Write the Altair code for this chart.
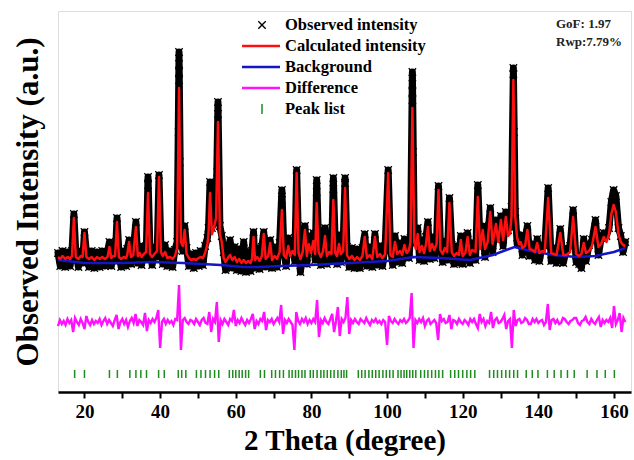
import altair as alt
import pandas as pd

# ---------------- data ----------------
# 2-theta positions of the profile vertices (degrees)
pos = [
    13.0, 13.6, 14.2, 14.9, 15.6, 16.2, 16.7, 17.2, 17.7, 18.4,
    19.0, 19.5, 20.0, 20.5, 21.2, 21.9, 22.6, 23.3, 24.0, 24.7,
    25.4, 26.1, 26.6, 27.1, 27.6, 28.1, 28.6, 29.1, 29.7, 30.4,
    31.0, 31.3, 31.8, 32.3, 32.9, 33.6, 34.1, 34.6, 35.1, 35.7,
    36.3, 36.8, 37.3, 37.9, 38.5, 39.2, 39.7, 40.2, 40.7, 41.3,
    41.9, 42.6, 43.3, 43.9, 44.5, 45.0, 45.5, 46.0, 46.5, 47.0,
    47.6, 48.2, 48.9, 49.5, 50.2, 50.7, 51.3, 51.9, 52.5, 52.8,
    53.2, 53.7, 54.2, 54.8, 55.3, 55.8, 56.3, 56.8, 57.3, 57.9,
    58.5, 59.1, 59.7, 60.3, 60.9, 61.5, 62.1, 62.7, 63.3, 63.9,
    64.3, 64.7, 65.1, 65.7, 66.3, 66.9, 67.4, 67.9, 68.6, 69.1,
    69.6, 70.3, 70.9, 71.6, 72.2, 72.7, 73.3, 73.9, 74.4, 75.0,
    75.6, 76.1, 76.6, 77.1, 77.7, 78.3, 78.8, 79.3, 79.9, 80.5,
    81.0, 81.4, 81.9, 82.5, 83.1, 83.6, 84.1, 84.7, 85.3, 85.8,
    86.3, 86.8, 87.3, 87.8, 88.4, 88.9, 89.4, 90.0, 90.7, 91.4,
    92.1, 92.8, 93.5, 94.1, 94.7, 95.4, 96.1, 96.8, 97.4, 98.1,
    98.8, 99.5, 100.3, 100.9, 101.5, 102.1, 102.7, 103.4, 104.0, 104.6,
    105.2, 105.8, 106.2, 106.7, 107.2, 107.6, 108.1, 108.6, 109.2, 109.8,
    110.3, 110.8, 111.3, 111.9, 112.5, 113.1, 113.6, 114.1, 114.7, 115.3,
    115.9, 116.5, 117.1, 117.7, 118.4, 119.0, 119.5, 120.0, 120.7, 121.3,
    121.9, 122.5, 123.4, 124.0, 124.6, 125.3, 125.9, 126.6, 127.3, 127.9,
    128.8, 129.4, 130.1, 130.7, 131.4, 132.0, 132.5, 132.9, 133.4, 133.9,
    134.4, 134.9, 135.3, 135.8, 136.5, 137.1, 137.7, 138.4, 139.1, 139.7,
    140.3, 141.0, 141.7, 142.6, 143.4, 144.1, 144.8, 145.8, 146.6, 147.4,
    148.4, 149.2, 150.0, 150.8, 151.4, 152.0, 152.6, 153.4, 154.2, 155.1,
    155.9, 156.6, 157.3, 158.0, 158.7, 159.3, 159.9, 160.5, 161.2, 161.8,
    162.4, 163.0,
]
# calculated intensity (a.u.)
calc = [
    135, 133, 136, 133, 135, 133, 136, 174, 135, 133,
    136, 135, 159, 135, 133, 135, 132, 135, 133, 135,
    133, 135, 145, 134, 136, 136, 170, 135, 133, 135,
    134, 137, 150, 135, 137, 165, 136, 139, 135, 138,
    140, 199, 138, 135, 138, 141, 215, 140, 136, 140,
    134, 135, 133, 136, 144, 304, 150, 146, 162, 138,
    134, 132, 133, 132, 134, 135, 134, 139, 148, 158,
    199, 158, 164, 174, 270, 158, 150, 134, 130, 134,
    137, 132, 135, 130, 133, 129, 132, 129, 131, 129,
    133, 155, 132, 135, 131, 136, 158, 133, 136, 149,
    132, 136, 133, 140, 182, 137, 134, 146, 136, 141,
    137, 219, 139, 133, 140, 162, 136, 148, 139, 151,
    138, 189, 140, 135, 141, 156, 136, 140, 138, 192,
    139, 136, 148, 138, 141, 204, 137, 133, 136, 132,
    135, 132, 136, 155, 134, 137, 133, 155, 135, 138,
    134, 138, 219, 137, 135, 150, 138, 141, 137, 147,
    139, 142, 150, 284, 150, 143, 158, 140, 146, 139,
    148, 165, 141, 148, 142, 148, 202, 142, 138, 144,
    140, 189, 140, 136, 139, 137, 152, 136, 139, 155,
    137, 142, 140, 195, 143, 162, 143, 150, 180, 148,
    168, 150, 172, 152, 175, 156, 158, 175, 312, 175,
    154, 148, 150, 144, 146, 162, 143, 142, 140, 149,
    139, 141, 140, 194, 139, 138, 137, 159, 137, 137,
    140, 175, 138, 136, 138, 149, 139, 141, 146, 165,
    145, 148, 155, 150, 158, 178, 187, 180, 158, 150,
    147, 146,
]
# observed intensity (a.u.)
obs = [
    139, 126, 141, 125, 140, 126, 141, 178, 140, 125,
    141, 129, 160, 140, 125, 141, 124, 140, 125, 141,
    126, 140, 150, 126, 142, 131, 174, 140, 125, 141,
    126, 143, 152, 128, 143, 170, 129, 146, 127, 145,
    134, 215, 144, 127, 145, 135, 217, 146, 128, 147,
    126, 141, 125, 142, 150, 340, 156, 141, 166, 144,
    126, 138, 124, 139, 126, 141, 127, 146, 154, 164,
    210, 164, 170, 180, 290, 166, 156, 140, 122, 142,
    152, 124, 145, 122, 143, 121, 150, 120, 140, 121,
    141, 160, 124, 144, 123, 145, 160, 125, 145, 152,
    124, 145, 125, 149, 202, 145, 126, 154, 144, 149,
    131, 222, 147, 120, 148, 166, 128, 156, 147, 159,
    132, 212, 148, 127, 149, 164, 128, 149, 131, 214,
    147, 128, 157, 130, 149, 214, 145, 125, 144, 124,
    143, 124, 144, 158, 126, 145, 125, 158, 127, 146,
    126, 146, 222, 145, 127, 156, 130, 149, 129, 153,
    147, 134, 154, 320, 154, 149, 164, 132, 152, 131,
    155, 170, 133, 155, 134, 154, 206, 149, 130, 151,
    132, 194, 147, 128, 146, 129, 156, 128, 146, 159,
    129, 149, 132, 207, 149, 166, 135, 156, 184, 140,
    172, 156, 176, 146, 180, 162, 165, 185, 324, 180,
    148, 155, 157, 137, 152, 166, 136, 148, 132, 153,
    131, 147, 146, 204, 131, 144, 129, 163, 129, 143,
    146, 182, 130, 128, 124, 153, 131, 147, 152, 172,
    137, 154, 159, 156, 164, 190, 202, 196, 164, 156,
    140, 150,
]
# extra observed points stacked on the strongest reflections
obs_extra_pos = [45.0, 45.0, 45.0, 44.8, 45.2, 44.9, 45.15,
                 55.3, 55.15, 55.45, 55.2,
                 106.7, 106.7, 106.7, 106.55, 106.85, 106.6,
                 133.4, 133.25, 133.55, 133.3,
                 36.8, 72.2, 81.4, 85.8, 88.9]
obs_extra_val = [312, 320, 328, 200, 230, 260, 170,
                 278, 220, 200, 180,
                 292, 300, 308, 200, 240, 160,
                 318, 220, 260, 180,
                 207, 192, 200, 203, 209]

# background
bg_pos = [13, 20, 30, 38, 46, 56, 62, 66, 72, 80, 90, 100, 107, 114, 122,
          128, 133.7, 138, 144, 150, 155, 160, 163]
bg_val = [132, 129, 129, 130, 129, 127, 125, 125, 126, 127, 129, 131, 135, 134, 132,
          137, 145, 141, 137, 135, 136, 140, 144]

# difference curve, one value every 0.5 degree from 13 to 163
diff_start, diff_step = 13.0, 0.5
diff_val = [
    66, 72, 68, 71, 67, 73, 69, 72, 60, 74,
    70, 67, 73, 69, 63, 76, 70, 67, 72, 68,
    71, 69, 73, 67, 71, 74, 68, 72, 69, 66,
    72, 77, 63, 70, 73, 68, 72, 65, 71, 74,
    69, 78, 66, 72, 70, 67, 79, 61, 72, 69,
    73, 70, 74, 82, 44, 70, 73, 68, 72, 69,
    71, 67, 73, 72, 107, 42, 72, 74, 70, 68,
    72, 71, 68, 73, 70, 67, 72, 74, 69, 68,
    80, 60, 73, 70, 90, 50, 72, 68, 73, 70,
    67, 73, 71, 82, 66, 72, 69, 74, 70, 67,
    72, 69, 73, 78, 63, 71, 68, 73, 71, 80,
    62, 72, 70, 73, 68, 71, 74, 70, 87, 58,
    72, 69, 73, 70, 67, 42, 80, 71, 68, 73,
    70, 74, 68, 72, 69, 73, 70, 92, 55, 72,
    69, 74, 70, 68, 73, 78, 60, 71, 85, 56,
    73, 70, 74, 95, 58, 72, 69, 73, 70, 68,
    73, 71, 69, 74, 70, 67, 72, 70, 73, 69,
    71, 68, 72, 70, 47, 76, 71, 69, 73, 70,
    68, 72, 70, 73, 69, 71, 74, 99, 44, 72,
    69, 73, 70, 74, 66, 71, 73, 68, 70, 72,
    69, 52, 78, 71, 73, 69, 70, 77, 63, 72,
    71, 68, 73, 70, 68, 72, 70, 67, 73, 70,
    73, 68, 64, 78, 70, 73, 66, 71, 69, 80,
    64, 72, 74, 69, 70, 73, 77, 63, 71, 73,
    44, 82, 66, 72, 73, 69, 70, 74, 72, 68,
    68, 73, 70, 73, 69, 71, 72, 67, 70, 88,
    62, 72, 73, 69, 72, 68, 69, 74, 73, 70,
    68, 71, 72, 74, 74, 69, 67, 71, 72, 75,
    70, 68, 73, 70, 68, 72, 75, 65, 72, 69,
    72, 70, 74, 64, 86, 68, 72, 79, 60, 74,
    70,
]
diff_pos = [diff_start + diff_step * i for i in range(len(diff_val))]

# Bragg peak positions
peak_list = [
    17.4, 20.0, 26.6, 28.7, 32.0, 33.6, 34.9, 36.4, 39.6, 41.1,
    44.8, 45.7, 46.8, 49.6, 50.8, 52.0, 53.2, 54.4, 55.5,
    58.3, 59.2, 60.0, 60.9, 61.7, 62.6, 63.4, 66.5, 67.6,
    69.5, 70.5, 71.6, 72.6, 74.1, 74.9, 75.8, 76.6, 77.5, 78.3,
    79.7, 80.5, 81.5, 82.5, 83.3, 84.2, 85.1, 86.0, 87.0, 87.9, 88.6, 89.3,
    92.4, 93.3, 94.2, 95.2, 96.1, 97.0, 97.9, 98.9, 99.8, 100.7, 101.6,
    102.9, 103.7, 104.5, 105.2, 106.0, 106.8, 107.6,
    108.9, 109.9, 110.8, 111.8, 112.8, 113.7, 114.7,
    116.8, 117.9, 118.9, 120.0, 121.1, 122.1, 123.2,
    127.1, 128.2, 129.2, 130.3, 131.4, 132.4, 133.5, 134.5,
    136.8, 138.4, 139.9,
    142.4, 144.2, 146.0, 147.7, 149.5,
    152.9, 155.5, 157.7, 160.1,
]

legend_labels = ["Observed intensity", "Calculated intensity", "Background",
                 "Difference", "Peak list"]
stats_labels = ["GoF: 1.97", "Rwp:7.79%"]

# ---------------- chart ----------------
FONT = "Liberation Serif"
C_OBS = "#000000"
C_CALC = "#ff1010"
C_BG = "#1515c8"
C_DIFF = "#ff10ff"
C_PEAK = "#1e8c1e"
XSHAPE = "M-1,-1L1,1M-1,1L1,-1"

prof = pd.DataFrame(list(zip(pos, calc, obs)), columns=["tt", "calc", "obs"])
extra = pd.DataFrame(list(zip(obs_extra_pos, obs_extra_val)), columns=["tt", "obs"])
bgdf = pd.DataFrame(list(zip(bg_pos, bg_val)), columns=["tt", "v"])
dfd = pd.DataFrame(list(zip(diff_pos, diff_val)), columns=["tt", "v"])
pkdf = pd.DataFrame({"tt": peak_list})

xscale = alt.Scale(domain=[13, 164.5], nice=False, zero=False)
yscale = alt.Scale(domain=[0, 381], nice=False, zero=False)

X = alt.X(
    "tt:Q", scale=xscale, title="2 Theta (degree)",
    axis=alt.Axis(values=list(range(20, 161, 10)),
                  labelExpr="datum.value % 20 == 0 ? datum.label : ''",
                  grid=False, tickSize=6, tickWidth=2, tickColor="black",
                  domainColor="black", domainWidth=2.5,
                  labelFont=FONT, labelFontSize=19, labelFontWeight="bold",
                  labelColor="black", labelPadding=4,
                  titleFont=FONT, titleFontSize=29, titleFontWeight="bold",
                  titleColor="black", titlePadding=5),
)
YAX = alt.Axis(labels=False, ticks=False, domain=False, grid=False,
               titleFont=FONT, titleFontSize=31, titleFontWeight="bold",
               titleColor="black", titlePadding=14)


def Y(field):
    return alt.Y(field, scale=yscale, axis=YAX, title="Observed Intensity (a.u.)")


obs_band = alt.Chart(prof).mark_line(
    color=C_OBS, strokeWidth=7, strokeJoin="round", strokeCap="round"
).encode(x=X, y=Y("obs:Q"), order="tt:Q")

obs_pts = alt.Chart(prof).mark_point(
    shape=XSHAPE, filled=False, color=C_OBS, size=55, strokeWidth=1.3, opacity=1
).encode(x=X, y=Y("obs:Q"))

obs_pts2 = alt.Chart(extra).mark_point(
    shape=XSHAPE, filled=False, color=C_OBS, size=55, strokeWidth=1.3, opacity=1
).encode(x=X, y=Y("obs:Q"))

bg_line = alt.Chart(bgdf).mark_line(color=C_BG, strokeWidth=2.5).encode(
    x=X, y=Y("v:Q"))

calc_line = alt.Chart(prof).mark_line(
    color=C_CALC, strokeWidth=2.5, strokeJoin="round"
).encode(x=X, y=Y("calc:Q"), order="tt:Q")

diff_line = alt.Chart(dfd).mark_line(color=C_DIFF, strokeWidth=2.4).encode(
    x=X, y=Y("v:Q"))

peaks = alt.Chart(pkdf).mark_rule(color=C_PEAK, strokeWidth=1.5).encode(
    x=X, y=alt.datum(14, scale=yscale), y2=alt.datum(22))

one = pd.DataFrame({"k": [0]})
layers = [obs_band, obs_pts, obs_pts2, bg_line, calc_line, diff_line, peaks]

# legend (positions in pixels inside the plot area)
row_y = [14, 35, 56, 77, 98]
for lab, yy in zip(legend_labels, row_y):
    layers.append(
        alt.Chart(one).mark_text(
            align="left", baseline="middle", font=FONT, fontSize=16.5,
            fontWeight="bold", color="black"
        ).encode(x=alt.value(227), y=alt.value(yy), text=alt.value(lab))
    )
layers.append(alt.Chart(one).mark_point(
    shape=XSHAPE, filled=False, color=C_OBS, size=55, strokeWidth=1.4, opacity=1
).encode(x=alt.value(204), y=alt.value(row_y[0])))
for col, yy in zip([C_CALC, C_BG, C_DIFF], row_y[1:4]):
    layers.append(alt.Chart(one).mark_rule(color=col, strokeWidth=2.5).encode(
        x=alt.value(184), x2=alt.value(222), y=alt.value(yy)))
layers.append(alt.Chart(one).mark_rule(color=C_PEAK, strokeWidth=1.5).encode(
    x=alt.value(204), y=alt.value(row_y[4] - 5), y2=alt.value(row_y[4] + 5)))

for lab, yy in zip(stats_labels, [13, 31]):
    layers.append(
        alt.Chart(one).mark_text(
            align="left", baseline="middle", font=FONT, fontSize=13,
            fontWeight="bold", color="#222222"
        ).encode(x=alt.value(498), y=alt.value(yy), text=alt.value(lab))
    )

chart = alt.layer(*layers).properties(
    width=573, height=381,
    autosize=alt.AutoSizeParams(type="none"),
    padding={"left": 58, "top": 11, "right": 3, "bottom": 68},
).configure_view(stroke="black", strokeWidth=2.5).configure(background="white")

chart.save("out.html", embed_options={"renderer": "svg", "actions": False})
